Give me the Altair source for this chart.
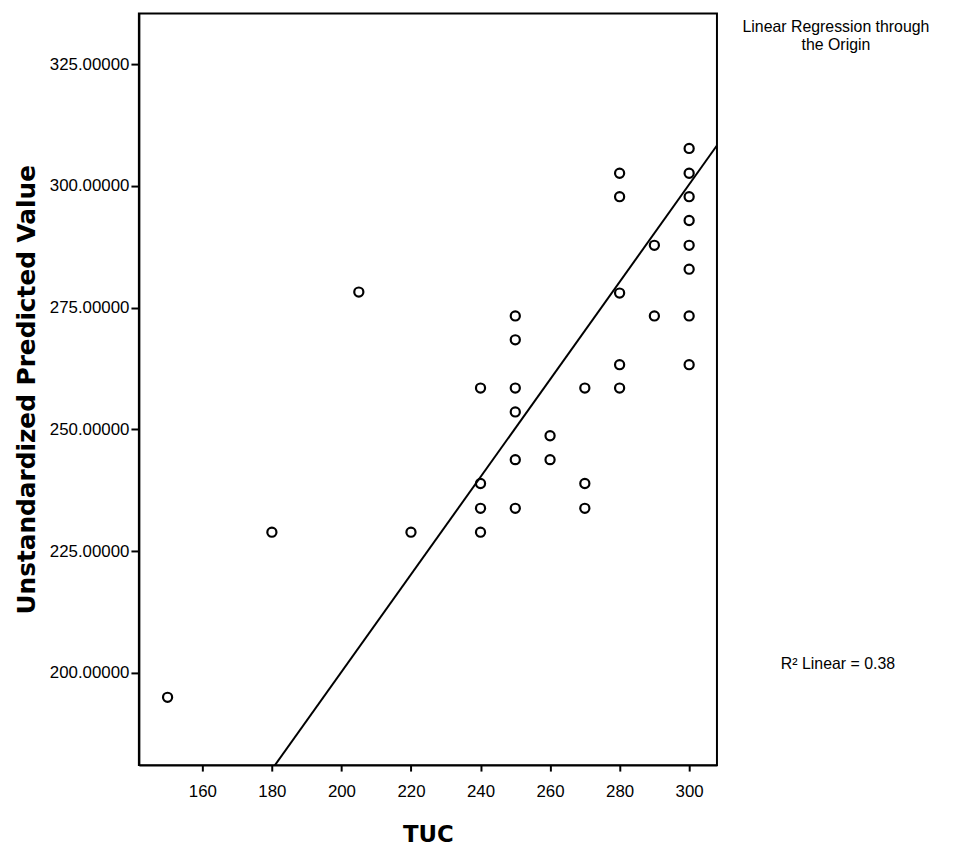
import altair as alt
import pandas as pd

# data
tuc = [150, 180, 205, 220,
       240, 240, 240, 240,
       250, 250, 250, 250, 250, 250,
       260, 260,
       270, 270, 270,
       280, 280, 280, 280, 280,
       290, 290,
       300, 300, 300, 300, 300, 300, 300, 300]
predicted = [195.0, 228.9, 278.2, 228.9,
             258.5, 238.9, 233.8, 228.9,
             273.3, 268.4, 258.5, 253.6, 243.8, 233.8,
             248.7, 243.8,
             258.5, 238.9, 233.8,
             302.6, 297.8, 278.0, 263.3, 258.5,
             287.8, 273.3,
             307.7, 302.6, 297.8, 292.9, 287.8, 282.9, 273.3, 263.3]
slope = 1.001  # regression through the origin
x_ticks = [160, 180, 200, 220, 240, 260, 280, 300]
y_ticks = [200, 225, 250, 275, 300, 325]
x_domain = [141.75, 308]
y_domain = [181.07, 335.4]
annotations = ["Linear Regression through", "the Origin", "R\u00b2 Linear = 0.38"]

df = pd.DataFrame({"TUC": tuc, "pred": predicted})
line_x = [140, 310]
line_df = pd.DataFrame({"TUC": line_x, "pred": [slope * v for v in line_x]})

FONT = "Liberation Sans, Arial"
TFONT = "DejaVu Sans"

xs = alt.X("TUC:Q", scale=alt.Scale(domain=x_domain, nice=False, zero=False),
           axis=alt.Axis(values=x_ticks, title="TUC", grid=False, format="d",
                         titleFont=TFONT, titleFontSize=23, titleFontWeight="bold",
                         titleColor="black", titlePadding=24,
                         labelFont=FONT, labelFontSize=17, labelColor="black",
                         tickColor="black", tickSize=6, tickWidth=2,
                         domainColor="black", domainWidth=2, labelPadding=13))
ys = alt.Y("pred:Q", scale=alt.Scale(domain=y_domain, nice=False, zero=False),
           axis=alt.Axis(values=y_ticks, title="Unstandardized Predicted Value", grid=False,
                         format=".5f",
                         titleFont=TFONT, titleFontSize=25, titleFontWeight="bold",
                         titleColor="black", titlePadding=10,
                         labelFont=FONT, labelFontSize=17, labelColor="black",
                         tickColor="black", tickSize=8, tickWidth=2,
                         domainColor="black", domainWidth=2, labelPadding=2))

points = alt.Chart(df).mark_point(shape="circle", filled=False, size=85,
                                  strokeWidth=2.2, color="black", opacity=1).encode(x=xs, y=ys)

line = alt.Chart(line_df).mark_line(color="black", strokeWidth=2, clip=True).encode(
    x=alt.X("TUC:Q"), y=alt.Y("pred:Q"))

ann_df = pd.DataFrame({"t": annotations,
                       "px": [703, 703, 705], "py": [14, 32, 656]})
ann = alt.Chart(ann_df).mark_text(font=FONT, fontSize=16, color="black", align="center",
                                  baseline="middle", clip=False).encode(
    text="t:N", x=alt.X("px:Q", scale=None), y=alt.Y("py:Q", scale=None))

chart = alt.layer(points, line, ann).properties(
    width=583, height=758,
    autosize=alt.AutoSizeParams(type="none"),
    padding={"left": 132, "top": 2, "right": 232, "bottom": 80},
).configure(background="white").configure_view(stroke="black", strokeWidth=2)

chart.save("out.html", embed_options={"renderer": "svg", "actions": False})
